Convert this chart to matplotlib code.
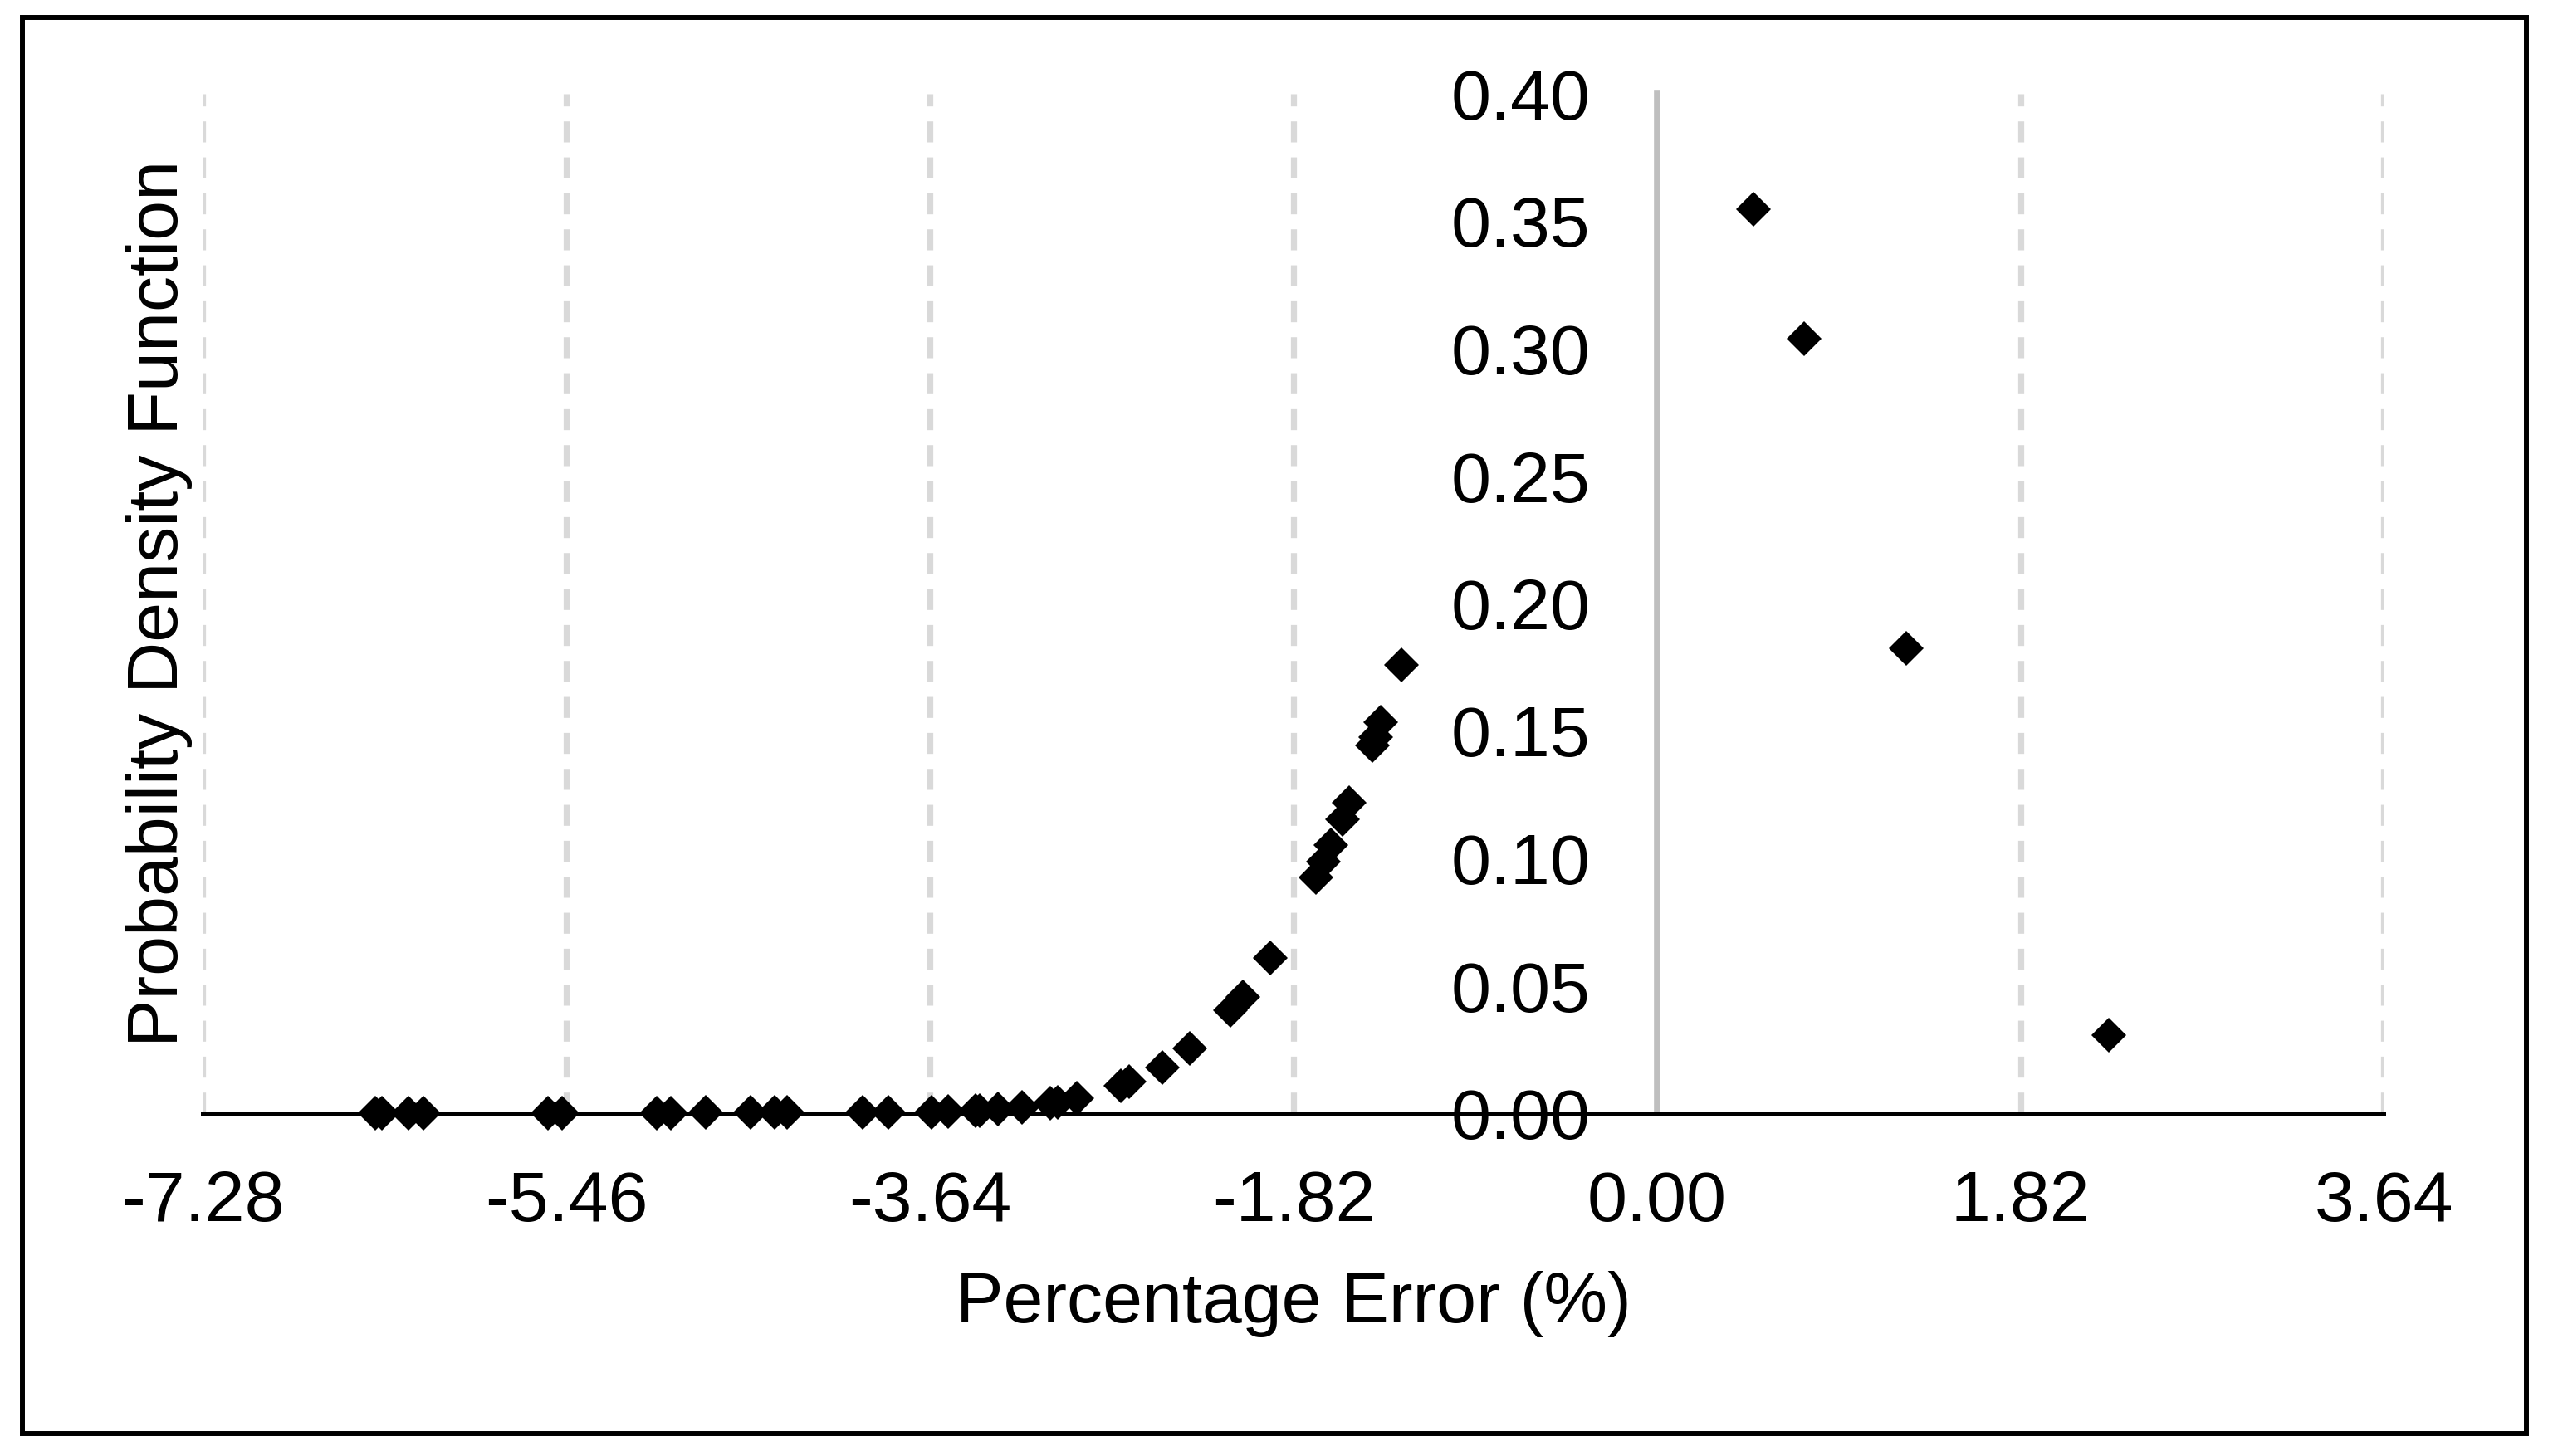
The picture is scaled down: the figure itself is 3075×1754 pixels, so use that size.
#!/usr/bin/env python
# coding=utf-8

"""
Percentage error vs probability density, scatter of diamonds.
"""

import matplotlib
matplotlib.use('Agg')
from matplotlib import pyplot as plt
from matplotlib.patches import Rectangle

plt.rcParams['font.family'] = ['Liberation Sans', 'DejaVu Sans']

# percentage error (%) of each sample
errors = [
    -6.415, -6.383, -6.249, -6.175, -5.554, -5.482, -5.008, -4.939,
    -4.762, -4.540, -4.416, -4.353, -3.975, -3.847, -3.633, -3.549,
    -3.410, -3.390, -3.300, -3.178, -3.037, -3.002, -2.905, -2.684,
    -2.642, -2.476, -2.339, -2.136, -2.074, -1.938, -1.707, -1.672,
    -1.631, -1.575, -1.541, -1.423, -1.409, -1.382, -1.278,
    0.483, 0.737, 1.248, 2.263,
]
# probability density at each sample
pdf = [
    0.0001, 0.0001, 0.0001, 0.0001, 0.0001, 0.0001, 0.0001, 0.0001,
    0.0002, 0.0002, 0.0002, 0.0002, 0.0003, 0.0003, 0.0004, 0.0005,
    0.0009, 0.0011, 0.0016, 0.0023, 0.0040, 0.0042, 0.0059, 0.0107,
    0.0124, 0.0180, 0.0254, 0.0405, 0.0457, 0.0609, 0.0924, 0.0986,
    0.1051, 0.1152, 0.1217, 0.1442, 0.1475, 0.1534, 0.1760,
    0.3547, 0.3039, 0.1825, 0.0307,
]

x_ticks = [-7.28, -5.46, -3.64, -1.82, 0.00, 1.82, 3.64]
y_ticks = [0.00, 0.05, 0.10, 0.15, 0.20, 0.25, 0.30, 0.35, 0.40]

W, H = 3075, 1754
fig = plt.figure(figsize=(W / 100.0, H / 100.0), dpi=100)
ax = fig.add_axes([244.3 / W, 1 - 1341.0 / H,
                   (2871.5 - 244.3) / W, (1341.0 - 113.0) / H])

# dashed vertical grid, skip the zero line (that one is the y axis)
for xt in x_ticks:
    if xt == 0:
        continue
    ax.plot([xt, xt], [0, 0.40], color='#D9D9D9', linewidth=5.2,
            linestyle=(0, (3.5, 2.5)), zorder=1)

ax.plot(errors, pdf, 'D', color='black', markersize=21.4,
        markeredgewidth=0, clip_on=False, zorder=5)

ax.set_xlim(-7.28, 3.64)
ax.set_ylim(0, 0.40)

ax.spines['top'].set_visible(False)
ax.spines['right'].set_visible(False)
ax.spines['bottom'].set_color('black')
ax.spines['bottom'].set_linewidth(3.6)
ax.spines['bottom'].set_zorder(3)
ax.spines['left'].set_position(('data', 0))
ax.spines['left'].set_color('#BFBFBF')
ax.spines['left'].set_linewidth(5.5)

ax.set_xticks(x_ticks)
ax.set_xticklabels(['%.2f' % v for v in x_ticks])
ax.set_yticks(y_ticks)
ax.set_yticklabels(['%.2f' % v for v in y_ticks])
ax.tick_params(axis='x', length=0, pad=49, labelsize=62)
ax.tick_params(axis='y', length=0, pad=58, labelsize=62)

ax.set_xlabel(u"Percentage Error (%)", fontsize=62, labelpad=30)
fig.text(192.0 / W, 1 - 727.0 / H, u"Probability Density Function",
         rotation=90, fontsize=62, ha='center', va='center')

# outer frame round the whole picture
fig.patches.append(Rectangle((27.0 / W, 1 - 1727.0 / H),
                             (3043.0 - 27.0) / W, (1727.0 - 21.0) / H,
                             transform=fig.transFigure, fill=False,
                             edgecolor='black', linewidth=4.3))

fig.savefig('out.png', dpi=100)
